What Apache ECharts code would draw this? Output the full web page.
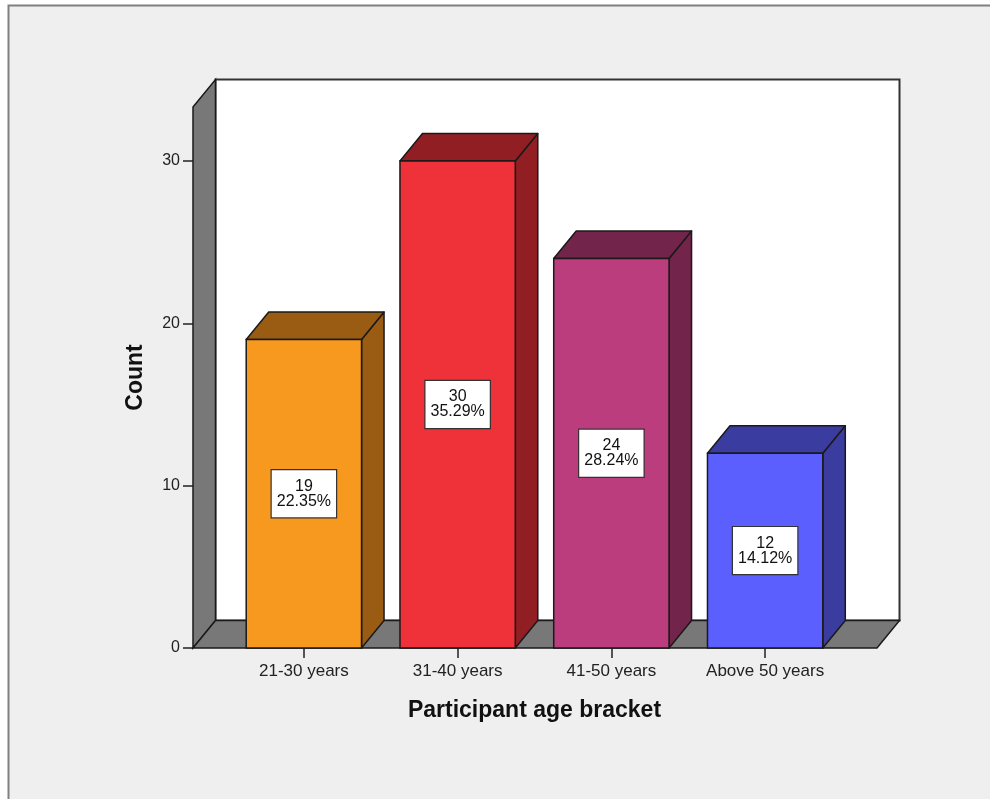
<!DOCTYPE html>
<html>
<head>
<meta charset="utf-8">
<script src="https://cdn.jsdelivr.net/npm/echarts@6/dist/echarts.min.js"></script>
<style>
  html, body { margin: 0; padding: 0; background: #ffffff; }
  #chart { width: 990px; height: 799px; }
</style>
</head>
<body>
<div id="chart"></div>
<script>
// Age brackets and participant counts
const categories = ['21-30 years', '31-40 years', '41-50 years', 'Above 50 years'];
const counts = [19, 30, 24, 12];
const yTicks = [0, 10, 20, 30];

// Face colours: front, and the shaded top/side faces
const frontColors = ['#f7991f', '#ef3139', '#bb3d7e', '#5a5ffe'];
const shadeColors = ['#9a5c13', '#911e23', '#73244b', '#3a3d9f'];

const total = counts.reduce((a, b) => a + b, 0);

// depth offset of the pseudo-3D extrusion
const DX = 22.5;
const DY = -27.5;
// how far the walls/floor extend beyond the grid on each side
const PAD_L = 34;
const PAD_R = 35;

const chart = echarts.init(document.getElementById('chart'), null, { renderer: 'canvas' });

const FONT = '"Liberation Sans", Arial, sans-serif';
const EDGE = '#1a1a1a';

function renderWalls(params, api) {
  const cs = params.coordSys;
  const fl = cs.x - PAD_L, fr = cs.x + cs.width + PAD_R;
  const ft = cs.y, fb = cs.y + cs.height;
  return {
    type: 'group',
    children: [
      { // back wall
        type: 'polygon',
        shape: { points: [[fl + DX, ft + DY], [fr + DX, ft + DY], [fr + DX, fb + DY], [fl + DX, fb + DY]] },
        style: { fill: '#ffffff', stroke: '#333333', lineWidth: 2 }
      },
      { // left wall
        type: 'polygon',
        shape: { points: [[fl, ft], [fl + DX, ft + DY], [fl + DX, fb + DY], [fl, fb]] },
        style: { fill: '#787878', stroke: EDGE, lineWidth: 1.5 }
      },
      { // floor
        type: 'polygon',
        shape: { points: [[fl, fb], [fl + DX, fb + DY], [fr + DX, fb + DY], [fr, fb]] },
        style: { fill: '#787878', stroke: EDGE, lineWidth: 1.5 }
      }
    ]
  };
}

function renderBar(params, api) {
  const idx = api.value(0);
  const v = api.value(1);
  const top = api.coord([idx, v]);
  const base = api.coord([idx, 0]);
  const w = api.size([1, 0])[0] * 0.75;
  const x0 = top[0] - w / 2, x1 = top[0] + w / 2;
  const yt = top[1], yb = base[1];
  const pct = (v / total * 100).toFixed(2);
  return {
    type: 'group',
    children: [
      {
        type: 'polygon',
        shape: { points: [[x1, yt], [x1 + DX, yt + DY], [x1 + DX, yb + DY], [x1, yb]] },
        style: { fill: shadeColors[idx], stroke: EDGE, lineWidth: 1.5, lineJoin: 'round' }
      },
      {
        type: 'polygon',
        shape: { points: [[x0, yt], [x0 + DX, yt + DY], [x1 + DX, yt + DY], [x1, yt]] },
        style: { fill: shadeColors[idx], stroke: EDGE, lineWidth: 1.5, lineJoin: 'round' }
      },
      {
        type: 'rect',
        shape: { x: x0, y: yt, width: w, height: yb - yt },
        style: { fill: frontColors[idx], stroke: EDGE, lineWidth: 1.5 }
      },
      {
        type: 'text',
        x: top[0],
        y: (yt + yb) / 2,
        style: {
          text: v + '\n' + pct + '%',
          font: '16px ' + FONT,
          fill: '#111111',
          align: 'center',
          verticalAlign: 'middle',
          lineHeight: 15,
          backgroundColor: '#ffffff',
          borderColor: '#333333',
          borderWidth: 1.2,
          padding: [9, 5, 8, 5]
        }
      }
    ]
  };
}

chart.setOption({
  backgroundColor: '#ffffff',
  animation: false,
  graphic: [{
    type: 'rect',
    z: -100,
    zlevel: 0,
    shape: { x: 8.5, y: 5.5, width: 1100, height: 1000 },
    style: { fill: '#efefef', stroke: '#808080', lineWidth: 2 }
  }],
  grid: { left: 227, right: 148, top: 107, bottom: 151 },
  xAxis: {
    type: 'category',
    data: categories,
    axisLine: { show: false },
    axisTick: { show: true, alignWithLabel: true, length: 10, lineStyle: { color: '#222', width: 1.5 } },
    axisLabel: { color: '#222', fontSize: 17, fontFamily: FONT, margin: 15 },
    name: 'Participant age bracket',
    nameLocation: 'middle',
    nameGap: 51,
    nameTextStyle: { color: '#111', fontSize: 23, fontWeight: 'bold', fontFamily: FONT }
  },
  yAxis: {
    type: 'value',
    min: 0,
    max: 33.33,
    interval: 10,
    offset: PAD_L,
    axisLine: { show: false },
    splitLine: { show: false },
    axisTick: { show: true, length: 10, customValues: yTicks, lineStyle: { color: '#222', width: 1.5 } },
    axisLabel: { customValues: yTicks, color: '#222', fontSize: 16, fontFamily: FONT, margin: 13 },
    name: 'Count',
    nameLocation: 'middle',
    nameRotate: 90,
    nameGap: 46,
    nameTextStyle: { color: '#111', fontSize: 23, fontWeight: 'bold', fontFamily: FONT }
  },
  series: [
    {
      type: 'custom',
      z: 1,
      silent: true,
      renderItem: renderWalls,
      data: [[0, 0]]
    },
    {
      type: 'custom',
      z: 3,
      renderItem: renderBar,
      data: counts.map((c, i) => [i, c])
    }
  ]
});
</script>
</body>
</html>
